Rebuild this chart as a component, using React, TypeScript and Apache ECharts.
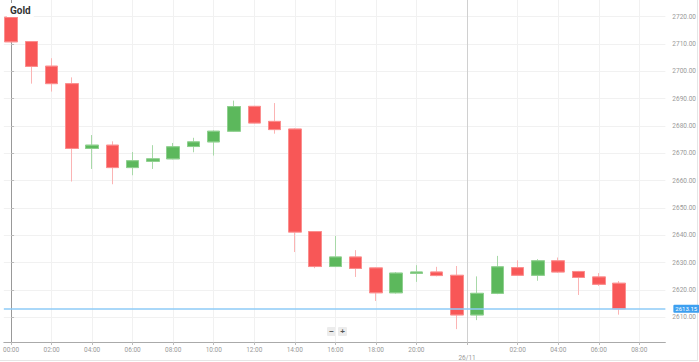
import React, { useEffect, useRef } from "react";
import * as echarts from "echarts";

// Hourly candles, 25/11 00:00 .. 26/11 07:00 (23:00 break removed)
const times = [
  "25/11 00:00", "25/11 01:00", "25/11 02:00", "25/11 03:00", "25/11 04:00", "25/11 05:00",
  "25/11 06:00", "25/11 07:00", "25/11 08:00", "25/11 09:00", "25/11 10:00", "25/11 11:00",
  "25/11 12:00", "25/11 13:00", "25/11 14:00", "25/11 15:00", "25/11 16:00", "25/11 17:00",
  "25/11 18:00", "25/11 19:00", "25/11 20:00", "25/11 21:00", "25/11 22:00", "26/11 00:00",
  "26/11 01:00", "26/11 02:00", "26/11 03:00", "26/11 04:00", "26/11 05:00", "26/11 06:00",
  "26/11 07:00",
];
const opens = [
  2719.8, 2710.9, 2701.9, 2695.5, 2671.8, 2673.0, 2664.8, 2667.1, 2668.0, 2672.5, 2674.2,
  2678.1, 2687.2, 2681.7, 2678.9, 2641.4, 2628.6, 2632.1, 2628.1, 2619.0, 2626.1, 2626.6,
  2625.4, 2610.9, 2618.8, 2628.2, 2625.4, 2630.7, 2626.8, 2624.8, 2622.5,
];
const closes = [
  2710.8, 2701.8, 2695.5, 2671.8, 2673.0, 2664.8, 2667.3, 2668.0, 2672.4, 2674.2, 2678.1,
  2687.1, 2681.1, 2678.7, 2641.2, 2628.6, 2632.1, 2627.9, 2619.0, 2626.2, 2626.6, 2625.3,
  2610.9, 2618.8, 2628.5, 2625.4, 2630.7, 2626.6, 2624.6, 2622.1, 2613.15,
];
const lows = [
  2710.6, 2695.5, 2692.6, 2659.7, 2664.3, 2658.7, 2662.0, 2664.3, 2667.8, 2670.4, 2669.2,
  2677.9, 2680.8, 2677.2, 2633.9, 2628.0, 2628.4, 2624.8, 2616.0, 2618.7, 2623.0, 2625.0,
  2605.7, 2609.0, 2618.5, 2625.2, 2623.4, 2626.3, 2618.2, 2621.5, 2611.0,
];
const highs = [
  2720.2, 2711.0, 2704.8, 2697.8, 2676.7, 2674.4, 2670.5, 2673.0, 2673.8, 2675.7, 2678.4,
  2689.3, 2687.4, 2688.4, 2679.2, 2641.6, 2639.8, 2634.6, 2628.3, 2626.6, 2629.1, 2628.5,
  2628.8, 2625.0, 2632.5, 2630.9, 2631.3, 2631.9, 2627.0, 2626.2, 2623.3,
];

const xTickSlots = [0, 2, 4, 6, 8, 10, 12, 14, 16, 18, 20, 25, 27, 29, 31];
const xTickLabels = [
  "00:00", "02:00", "04:00", "06:00", "08:00", "10:00", "12:00", "14:00", "16:00", "18:00",
  "20:00", "02:00", "04:00", "06:00", "08:00",
];
const daySeparatorSlot = 22.5;
const daySeparatorLabel = "26/11";

const yTicks = [2610, 2620, 2630, 2640, 2650, 2660, 2670, 2680, 2690, 2700, 2710, 2720];
const lastPrice = 2613.15;

const RED = "#f85757";
const GREEN = "#5cb85c";

export default function App() {
  const ref = useRef<HTMLDivElement>(null);

  useEffect(() => {
    document.body.style.margin = "0";
    if (!ref.current) return;
    const chart = echarts.init(ref.current, undefined, { renderer: "svg" });

    const full = times.map((t, i) => [i, opens[i], closes[i], lows[i], highs[i]]);
    const bodies = times.map((t, i) => [
      i,
      opens[i],
      closes[i],
      Math.min(opens[i], closes[i]),
      Math.max(opens[i], closes[i]),
    ]);

    const labelMap: Record<string, string> = {};
    xTickSlots.forEach((s, i) => (labelMap[String(s)] = xTickLabels[i]));
    labelMap[String(daySeparatorSlot)] = "\n" + daySeparatorLabel;

    chart.setOption({
      animation: false,
      title: {
        text: "Gold",
        left: 7,
        top: 3,
        padding: [2, 3],
        backgroundColor: "#fff",
        textStyle: { fontSize: 10, fontWeight: "bold", color: "#333", fontFamily: "Roboto" },
      },
      grid: { left: 0, top: 0, width: 667, height: 343 },
      xAxis: {
        type: "value",
        min: -0.357,
        max: 32.286,
        axisLine: { show: true, lineStyle: { color: "#aaa", width: 1 } },
        axisTick: {
          show: true,
          length: 3,
          lineStyle: { color: "#bbb" },
          customValues: [...xTickSlots, daySeparatorSlot],
        },
        axisLabel: {
          customValues: [...xTickSlots, daySeparatorSlot],
          formatter: (v: number) => labelMap[String(v)] ?? "",
          fontSize: 6.5,
          color: "#999",
          margin: 4,
          lineHeight: 8,
          fontFamily: "Roboto",
          showMinLabel: true,
          hideOverlap: false,
        },
        splitLine: { show: true, lineStyle: { color: "#f1f1f1", width: 1 } },
      },
      yAxis: {
        type: "value",
        position: "right",
        min: 2601.0,
        max: 2726.1,
        axisLine: { show: true, lineStyle: { color: "#999", width: 1 } },
        axisTick: { show: true, length: 3, lineStyle: { color: "#bbb" }, customValues: yTicks },
        axisLabel: {
          customValues: yTicks,
          formatter: (v: number) => v.toFixed(2),
          fontSize: 6.5,
          color: "#999",
          margin: 7,
          fontFamily: "Roboto",
        },
        splitLine: { show: true, lineStyle: { color: "#f1f1f1", width: 1 } },
      },
      series: [
        {
          type: "candlestick",
          barWidth: 13,
          data: full,
          itemStyle: {
            color: "rgba(0,0,0,0)",
            color0: "rgba(0,0,0,0)",
            borderColor: "#a8d9a8",
            borderColor0: "#fbb4b4",
            borderWidth: 1,
          },
          markLine: {
            silent: true,
            symbol: "none",
            data: [
              {
                xAxis: daySeparatorSlot,
                lineStyle: { color: "#d0d0d0", width: 1, type: "solid" },
                label: { show: false },
              },
              {
                yAxis: lastPrice,
                lineStyle: { color: "#8ecbf7", width: 1.5, type: "solid" },
                label: {
                  show: true,
                  position: "end",
                  formatter: lastPrice.toFixed(2),
                  backgroundColor: "#3d9ff0",
                  color: "#fff",
                  fontSize: 6,
                  padding: [1, 2],
                  borderRadius: 1,
                  distance: 8,
                  fontFamily: "Roboto",
                },
              },
            ],
          },
        },
        {
          type: "candlestick",
          barWidth: 13,
          data: bodies,
          itemStyle: {
            color: GREEN,
            color0: RED,
            borderColor: "#8fd08f",
            borderColor0: "#fb8e8e",
            borderWidth: 1,
          },
        },
      ],
      graphic: [
        {
          type: "group",
          left: 327,
          top: 327,
          children: [
            { type: "rect", shape: { x: 0, y: 0, width: 9, height: 9, r: 1 }, style: { fill: "#ececec" } },
            {
              type: "text",
              x: 4.5,
              y: 4.5,
              style: { text: "−", fontSize: 8, fill: "#555", align: "center", verticalAlign: "middle", fontWeight: "bold" },
            },
            { type: "rect", shape: { x: 11, y: 0, width: 9, height: 9, r: 1 }, style: { fill: "#ececec" } },
            {
              type: "text",
              x: 15.5,
              y: 4.5,
              style: { text: "+", fontSize: 8, fill: "#555", align: "center", verticalAlign: "middle", fontWeight: "bold" },
            },
          ],
        },
        {
          type: "line",
          shape: { x1: 0, y1: 360.5, x2: 697, y2: 360.5 },
          style: { stroke: "#e6e6e6", lineWidth: 1 },
        },
        {
          type: "line",
          shape: { x1: 697.5, y1: 0, x2: 697.5, y2: 361 },
          style: { stroke: "#e6e6e6", lineWidth: 1 },
        },
      ],
    });

    return () => chart.dispose();
  }, []);

  return <div ref={ref} style={{ width: 699, height: 362 }} />;
}
